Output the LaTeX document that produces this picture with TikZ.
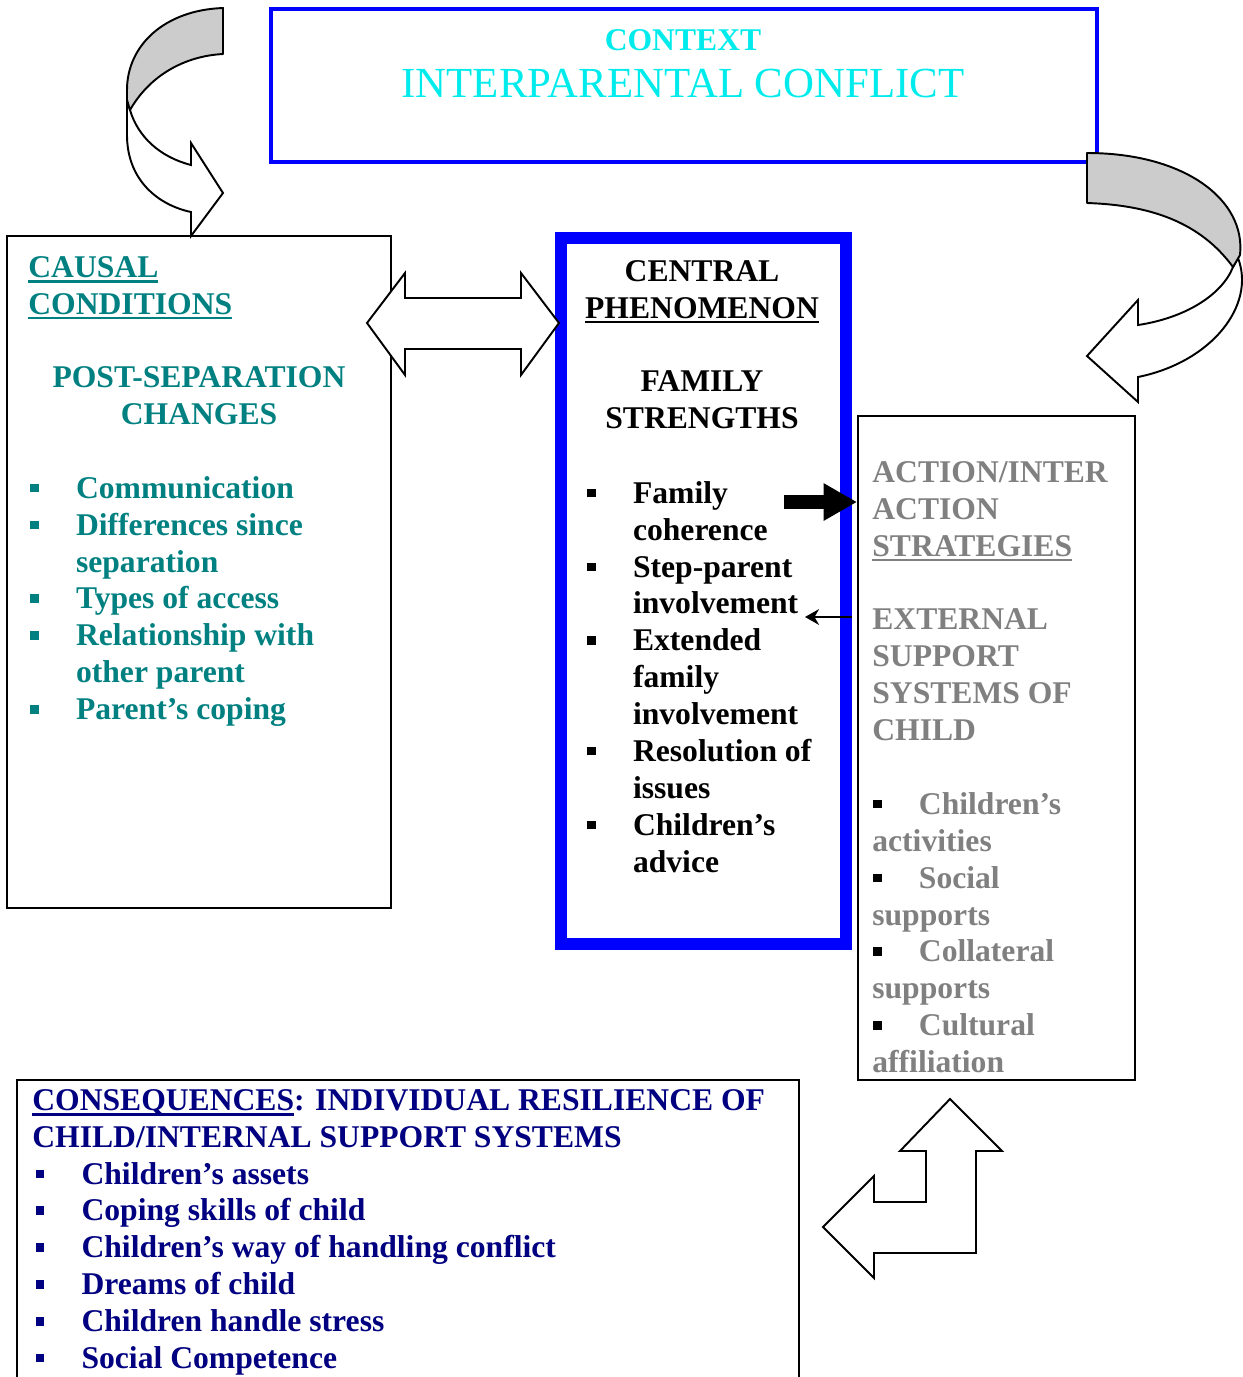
\documentclass[tikz,border=0pt]{standalone}
\usepackage{fontspec}
\setmainfont{Liberation Serif}
\usetikzlibrary{arrows.meta,fit}

\definecolor{tealtxt}{RGB}{0,128,128}
\definecolor{graytxt}{RGB}{128,128,128}
\definecolor{navytxt}{RGB}{0,0,128}
\definecolor{cyantxt}{RGB}{0,235,235}
\definecolor{ribbongray}{RGB}{204,204,204}

\newcommand{\sqb}{\rule[3.5pt]{4.8pt}{4.8pt}}
\newcommand{\itm}[1]{\makebox[26pt][l]{\sqb}#1}
\newcommand{\itmk}[1]{\makebox[26pt][l]{\color{black}\sqb}#1}
\newcommand{\ind}{\hspace*{26pt}}
\newcommand{\ul}[1]{\setbox0\hbox{#1}\rlap{\rule[-3pt]{\wd0}{1.4pt}}\box0}

\tikzset{
  frame/.style={draw, inner sep=0pt, line width=1.1pt},
  list/.style={anchor=north west, align=left},
  ribbon/.style={draw, fill=ribbongray, line width=1.1pt, line join=round},
  block/.style={draw, fill=white, line width=1.1pt, line join=miter},
}

\begin{document}
\begin{tikzpicture}[x=0.02cm, y=-0.02cm,
  every node/.style={inner sep=0pt, font=\fontsize{18}{21}\selectfont\bfseries}]
\useasboundingbox (0,0) rectangle (1243,1377);

% boxes
\node[frame, draw=blue, line width=2pt, fit={(271,9) (1097,162)}] (context) {};
\node[frame, fit={(7,236) (391,908)}] (causal) {};
\node[frame, draw=blue, line width=6.8pt, fit={(561,238) (846,944)}] (centre) {};
\node[frame, fit={(858,416) (1135,1080)}] (action) {};
\node[frame, fit={(17,1080) (799,1420)}] (conseq) {};

% context
\node[anchor=base, text=cyantxt] (ctxhead) at (683,50) {CONTEXT};
\node[anchor=base, text=cyantxt, font=\fontsize{24.4}{28}\selectfont\mdseries] (ctxname) at (683,97) {INTERPARENTAL CONFLICT};

% causal conditions
\node[list, text=tealtxt] (causalhead) at (28,256) {\ul{CAUSAL}\\\ul{CONDITIONS}};
\node[anchor=north, align=center, text=tealtxt] (causalsub) at (199,366) {POST-SEPARATION\\CHANGES};
\node[list, text=tealtxt] (causallist) at (30,476) {\itm{Communication}\\\itm{Differences since}\\\ind separation\\\itm{Types of access}\\\itm{Relationship with}\\\ind other parent\\\itm{Parent’s coping}};

% central phenomenon
\node[anchor=north, align=center] (centrehead) at (702,260) {CENTRAL\\\ul{PHENOMENON}};
\node[anchor=north, align=center] (centresub) at (702,370) {FAMILY\\STRENGTHS};
\node[list] (centrelist) at (587,481) {\itm{Family}\\\ind coherence\\\itm{Step-parent}\\\ind involvement\\\itm{Extended}\\\ind family\\\ind involvement\\\itm{Resolution of}\\\ind issues\\\itm{Children’s}\\\ind advice};

% action/interaction strategies
\node[list, text=graytxt] (actiontxt) at (872,461) {ACTION/INTER\\ACTION\\\ul{STRATEGIES}\\[21pt]EXTERNAL\\SUPPORT\\SYSTEMS OF\\CHILD\\[21pt]\hspace*{0.5pt}\itmk{Children’s}\\activities\\\hspace*{0.5pt}\itmk{Social}\\supports\\\hspace*{0.5pt}\itmk{Collateral}\\supports\\\hspace*{0.5pt}\itmk{Cultural}\\affiliation};

% consequences
\node[list, text=navytxt] (conseqtxt) at (32,1089) {\ul{CONSEQUENCES}: INDIVIDUAL RESILIENCE OF\\CHILD/INTERNAL SUPPORT SYSTEMS\\\hspace*{2pt}\itm{Children’s assets}\\\hspace*{2pt}\itm{Coping skills of child}\\\hspace*{2pt}\itm{Children’s way of handling conflict}\\\hspace*{2pt}\itm{Dreams of child}\\\hspace*{2pt}\itm{Children handle stress}\\\hspace*{2pt}\itm{Social Competence}};

% curved arrow context -> causal
\path[block] (127,100) -- (127,135) .. controls (127,180) and (158,205) .. (191,212) -- (191,236) -- (223,193) -- (191,143) -- (191,165) .. controls (160,157) and (138,137) .. (130,110) -- cycle;
\path[ribbon] (223,8) .. controls (165,10) and (127,45) .. (127,90) -- (127,100) -- (130,110) .. controls (150,75) and (185,56) .. (223,54) -- cycle;

% curved arrow context -> action
\path[block] (1238,258) .. controls (1256,305) and (1212,362) .. (1138,377) -- (1138,402) -- (1087,356) -- (1138,300) -- (1138,325) .. controls (1185,318) and (1222,295) .. (1233,267) -- cycle;
\path[ribbon] (1087,153) .. controls (1185,153) and (1246,200) .. (1240,255) -- (1233,267) .. controls (1200,222) and (1150,205) .. (1087,203) -- cycle;

% double arrow causal <-> centre
\path[block] (367,323) -- (405,273) -- (405,298) -- (521,298) -- (521,273) -- (559,323) -- (521,375) -- (521,349) -- (405,349) -- (405,375) -- cycle;

% L arrow action <-> consequences
\path[block] (950,1099) -- (1002,1151) -- (976,1151) -- (976,1253) -- (874,1253) -- (874,1278) -- (823,1227) -- (874,1176) -- (874,1202) -- (926,1202) -- (926,1151) -- (900,1151) -- cycle;

% centre <-> action
\coordinate (fattail) at (784,502);
\coordinate (thintip) at (805,617);
\draw[line width=8.5pt, -{Triangle[length=19pt,width=20pt]}] (fattail) -- (fattail -| action.west);
\draw[line width=1pt, -{Stealth[length=8pt,width=9pt]}] (centre.east |- thintip) -- (thintip);
\end{tikzpicture}
\end{document}
